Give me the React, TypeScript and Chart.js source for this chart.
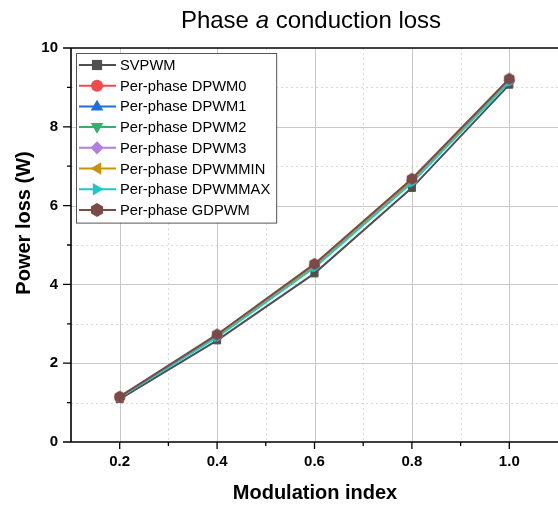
import React, { useEffect, useRef } from "react";
import { Chart, registerables } from "chart.js";
Chart.register(...registerables);

const modulationIndex = [0.2, 0.4, 0.6, 0.8, 1.0];
const svpwm = [1.09, 2.58, 4.28, 6.45, 9.07];
const dpwm0 = [1.14, 2.7, 4.48, 6.64, 9.18];
const dpwm1 = [1.14, 2.69, 4.46, 6.62, 9.17];
const dpwm2 = [1.14, 2.7, 4.48, 6.64, 9.18];
const dpwm3 = [1.13, 2.68, 4.45, 6.61, 9.16];
const dpwmmin = [1.14, 2.7, 4.48, 6.64, 9.18];
const dpwmmax = [1.13, 2.66, 4.43, 6.58, 9.14];
const gdpwm = [1.15, 2.73, 4.52, 6.68, 9.22];

const xMajorTicks = [0.2, 0.4, 0.6, 0.8, 1.0];
const xMinorTicks = [0.3, 0.5, 0.7, 0.9];
const yMajorTicks = [0, 2, 4, 6, 8, 10];
const yMinorTicks = [1, 3, 5, 7, 9];

const FONT = "'Liberation Sans', Arial, sans-serif";

function hexagon(color: string, r: number) {
  const c = document.createElement("canvas");
  const s = Math.ceil(r * 2 + 2);
  c.width = s;
  c.height = s;
  const ctx = c.getContext("2d")!;
  ctx.fillStyle = color;
  ctx.beginPath();
  for (let i = 0; i < 6; i++) {
    const a = (Math.PI / 3) * i - Math.PI / 2;
    const x = s / 2 + r * Math.cos(a);
    const y = s / 2 + r * Math.sin(a);
    if (i === 0) ctx.moveTo(x, y);
    else ctx.lineTo(x, y);
  }
  ctx.closePath();
  ctx.fill();
  return c;
}

type S = { label: string; data: number[]; color: string; style: any; rot: number };

function drawMarker(ctx: CanvasRenderingContext2D, st: any, rot: number, x: number, y: number, r: number) {
  if (st instanceof HTMLCanvasElement) {
    ctx.drawImage(st, x - st.width / 2, y - st.height / 2);
    return;
  }
  ctx.save();
  ctx.translate(x, y);
  ctx.rotate((rot * Math.PI) / 180);
  ctx.beginPath();
  if (st === "rect") {
    ctx.rect(-r * 0.85, -r * 0.85, r * 1.7, r * 1.7);
  } else if (st === "circle") {
    ctx.arc(0, 0, r, 0, Math.PI * 2);
  } else if (st === "triangle") {
    ctx.moveTo(0, -r * 1.1);
    ctx.lineTo(r * 1.05, r * 0.7);
    ctx.lineTo(-r * 1.05, r * 0.7);
    ctx.closePath();
  } else if (st === "rectRot") {
    ctx.moveTo(0, -r * 1.1);
    ctx.lineTo(r * 1.1, 0);
    ctx.lineTo(0, r * 1.1);
    ctx.lineTo(-r * 1.1, 0);
    ctx.closePath();
  }
  ctx.fill();
  ctx.restore();
}

export default function App() {
  const ref = useRef<HTMLCanvasElement>(null);
  useEffect(() => {
    const series: S[] = [
      { label: "SVPWM", data: svpwm, color: "#4f4f4f", style: "rect", rot: 0 },
      { label: "Per-phase DPWM0", data: dpwm0, color: "#f04a4a", style: "circle", rot: 0 },
      { label: "Per-phase DPWM1", data: dpwm1, color: "#1d6fdc", style: "triangle", rot: 0 },
      { label: "Per-phase DPWM2", data: dpwm2, color: "#35b06b", style: "triangle", rot: 180 },
      { label: "Per-phase DPWM3", data: dpwm3, color: "#b07fe0", style: "rectRot", rot: 0 },
      { label: "Per-phase DPWMMIN", data: dpwmmin, color: "#c8930a", style: "triangle", rot: -90 },
      { label: "Per-phase DPWMMAX", data: dpwmmax, color: "#1fc8c8", style: "triangle", rot: 90 },
      { label: "Per-phase GDPWM", data: gdpwm, color: "#7a4a48", style: hexagon("#7a4a48", 6), rot: 0 },
    ];
    const legendHex = hexagon("#7a4a48", 7);

    const decor = {
      id: "decor",
      beforeDatasetsDraw(chart: any) {
        const { ctx, chartArea: a, scales } = chart;
        const xs = scales.x, ys = scales.y;
        ctx.save();
        ctx.strokeStyle = "#d9d9d9";
        ctx.lineWidth = 1;
        ctx.setLineDash([2, 3]);
        xMinorTicks.forEach((v) => {
          const x = Math.round(xs.getPixelForValue(v)) + 0.5;
          ctx.beginPath(); ctx.moveTo(x, a.top); ctx.lineTo(x, a.bottom); ctx.stroke();
        });
        yMinorTicks.forEach((v) => {
          const y = Math.round(ys.getPixelForValue(v)) + 0.5;
          ctx.beginPath(); ctx.moveTo(a.left, y); ctx.lineTo(a.right, y); ctx.stroke();
        });
        ctx.setLineDash([]);
        ctx.strokeStyle = "#c8c8c8";
        xMajorTicks.forEach((v) => {
          const x = Math.round(xs.getPixelForValue(v)) + 0.5;
          ctx.beginPath(); ctx.moveTo(x, a.top); ctx.lineTo(x, a.bottom); ctx.stroke();
        });
        yMajorTicks.slice(1, -1).forEach((v) => {
          const y = Math.round(ys.getPixelForValue(v)) + 0.5;
          ctx.beginPath(); ctx.moveTo(a.left, y); ctx.lineTo(a.right, y); ctx.stroke();
        });
        ctx.restore();
      },
      afterDraw(chart: any) {
        const { ctx, chartArea: a, scales } = chart;
        const xs = scales.x, ys = scales.y;
        ctx.save();
        ctx.strokeStyle = "#000";
        ctx.lineWidth = 1.6;
        ctx.beginPath();
        ctx.moveTo(a.left, a.top); ctx.lineTo(a.right, a.top);
        ctx.moveTo(a.left, a.top); ctx.lineTo(a.left, a.bottom);
        ctx.moveTo(a.left, a.bottom); ctx.lineTo(a.right, a.bottom);
        ctx.stroke();
        ctx.lineWidth = 1.3;
        ctx.beginPath();
        xMajorTicks.forEach((v) => {
          const x = xs.getPixelForValue(v);
          ctx.moveTo(x, a.bottom); ctx.lineTo(x, a.bottom + 7);
        });
        xMinorTicks.forEach((v) => {
          const x = xs.getPixelForValue(v);
          ctx.moveTo(x, a.bottom); ctx.lineTo(x, a.bottom + 4);
        });
        yMajorTicks.forEach((v) => {
          const y = ys.getPixelForValue(v);
          ctx.moveTo(a.left, y); ctx.lineTo(a.left - 8, y);
        });
        yMinorTicks.forEach((v) => {
          const y = ys.getPixelForValue(v);
          ctx.moveTo(a.left, y); ctx.lineTo(a.left - 4, y);
        });
        ctx.stroke();

        // title
        ctx.fillStyle = "#000";
        ctx.textBaseline = "middle";
        const f1 = `24px ${FONT}`;
        const f2 = `italic 24px ${FONT}`;
        const parts: [string, string][] = [["Phase ", f1], ["a", f2], [" conduction loss", f1]];
        let tw = 0;
        parts.forEach(([t, f]) => { ctx.font = f; tw += ctx.measureText(t).width; });
        let tx = 311 - tw / 2;
        parts.forEach(([t, f]) => {
          ctx.font = f; ctx.textAlign = "left";
          ctx.fillText(t, tx, 21);
          tx += ctx.measureText(t).width;
        });

        // axis titles
        ctx.font = `bold 20px ${FONT}`;
        ctx.textAlign = "center";
        ctx.fillText("Modulation index", 315, 493);
        ctx.save();
        ctx.translate(24, 223);
        ctx.rotate(-Math.PI / 2);
        ctx.fillText("Power loss (W)", 0, 0);
        ctx.restore();

        // legend
        ctx.font = `14.7px ${FONT}`;
        let maxW = 0;
        series.forEach((s) => { maxW = Math.max(maxW, ctx.measureText(s.label).width); });
        const lx = 76, ly = 53, rowH = 20.7;
        const lw = 44 + maxW + 6;
        const lh = rowH * series.length + 4;
        ctx.fillStyle = "#fff";
        ctx.fillRect(lx, ly, lw, lh);
        ctx.strokeStyle = "#555";
        ctx.lineWidth = 1;
        ctx.strokeRect(lx + 0.5, ly + 0.5, lw, lh);
        ctx.textAlign = "left";
        series.forEach((s, i) => {
          const cy = ly + 12 + i * rowH;
          ctx.strokeStyle = s.color;
          ctx.lineWidth = 2;
          ctx.beginPath(); ctx.moveTo(lx + 3, cy); ctx.lineTo(lx + 40, cy); ctx.stroke();
          const st = s.style instanceof HTMLCanvasElement ? legendHex : s.style;
          ctx.fillStyle = s.color;
          drawMarker(ctx, st, s.rot, lx + 21, cy, 6);
          ctx.fillStyle = "#000";
          ctx.fillText(s.label, lx + 44, cy + 1);
        });
        ctx.restore();
      },
    };

    const chart = new Chart(ref.current!, {
      type: "line",
      data: {
        datasets: series.map((s, i) => ({
          label: s.label,
          data: s.data.map((v, j) => ({ x: modulationIndex[j], y: v })),
          borderColor: s.color,
          backgroundColor: s.color,
          borderWidth: 2,
          pointStyle: s.style,
          rotation: s.rot,
          pointRadius: 5,
          pointBorderWidth: 1,
          order: series.length - i,
        })),
      },
      options: {
        animation: false,
        responsive: false,
        layout: { autoPadding: false, padding: { top: 48, right: 0, left: 0, bottom: 0 } },
        plugins: { legend: { display: false }, title: { display: false }, tooltip: { enabled: false } },
        scales: {
          x: {
            type: "linear",
            min: 0.1,
            max: 1.1,
            grid: { display: false, drawTicks: false },
            border: { display: false },
            afterBuildTicks: (sc: any) => { sc.ticks = xMajorTicks.map((v) => ({ value: v })); },
            afterFit: (sc: any) => { sc.height = 64; sc.paddingLeft = 0; sc.paddingRight = 0; },
            ticks: {
              padding: 11,
              color: "#000",
              font: { family: FONT, size: 15, weight: "bold" },
              callback: (v: any) => Number(v).toFixed(1),
            },
          },
          y: {
            min: 0,
            max: 10,
            grid: { display: false, drawTicks: false },
            border: { display: false },
            afterBuildTicks: (sc: any) => { sc.ticks = yMajorTicks.map((v) => ({ value: v })); },
            afterFit: (sc: any) => { sc.width = 71; sc.paddingTop = 0; sc.paddingBottom = 0; },
            ticks: {
              padding: 13,
              color: "#000",
              font: { family: FONT, size: 15, weight: "bold" },
            },
          },
        },
      },
      plugins: [decor],
    } as any);
    return () => chart.destroy();
  }, []);
  return (
    <canvas
      ref={ref}
      width={558}
      height={506}
      style={{ position: "absolute", left: 0, top: 0, width: 558, height: 506 }}
    />
  );
}
